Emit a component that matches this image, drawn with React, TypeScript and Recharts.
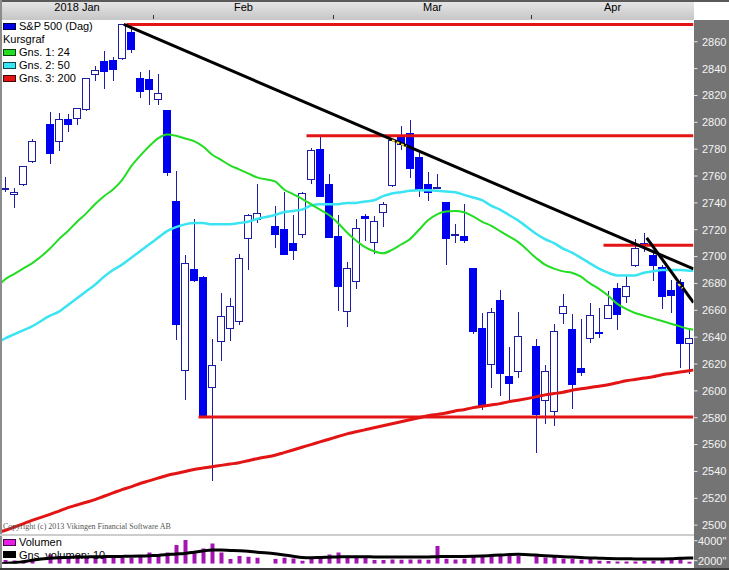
import React from 'react'
import { ComposedChart, Bar, Line, XAxis, YAxis, Legend } from 'recharts'

// one slot per weekday, holidays kept so the gaps show like in the original
const DATES = [
  '2018-01-09', '2018-01-10', '2018-01-11', '2018-01-12', '2018-01-15',
  '2018-01-16', '2018-01-17', '2018-01-18', '2018-01-19',
  '2018-01-22', '2018-01-23', '2018-01-24', '2018-01-25', '2018-01-26',
  '2018-01-29', '2018-01-30', '2018-01-31', '2018-02-01', '2018-02-02',
  '2018-02-05', '2018-02-06', '2018-02-07', '2018-02-08', '2018-02-09',
  '2018-02-12', '2018-02-13', '2018-02-14', '2018-02-15', '2018-02-16',
  '2018-02-19', '2018-02-20', '2018-02-21', '2018-02-22', '2018-02-23',
  '2018-02-26', '2018-02-27', '2018-02-28', '2018-03-01', '2018-03-02',
  '2018-03-05', '2018-03-06', '2018-03-07', '2018-03-08', '2018-03-09',
  '2018-03-12', '2018-03-13', '2018-03-14', '2018-03-15', '2018-03-16',
  '2018-03-19', '2018-03-20', '2018-03-21', '2018-03-22', '2018-03-23',
  '2018-03-26', '2018-03-27', '2018-03-28', '2018-03-29', '2018-03-30',
  '2018-04-02', '2018-04-03', '2018-04-04', '2018-04-05', '2018-04-06',
  '2018-04-09', '2018-04-10', '2018-04-11', '2018-04-12', '2018-04-13',
  '2018-04-16', '2018-04-17', '2018-04-18', '2018-04-19', '2018-04-20',
  '2018-04-23', '2018-04-24', '2018-04-25',
]

const MONTHS = ['2018 Jan', 'Feb', 'Mar', 'Apr']

const OPEN = [
  2751.15, 2745.55, 2752.97, 2770.18, null,
  2798.96, 2784.99, 2802.4, 2802.6,
  2809.16, 2835.05, 2845.42, 2846.24, 2847.48,
  2867.23, 2832.74, 2832.41, 2816.45, 2808.92,
  2741.06, 2614.78, 2690.95, 2685.01, 2601.78,
  2636.75, 2646.27, 2651.21, 2713.46, 2727.14,
  null, 2722.99, 2720.53, 2710.42, 2715.8,
  2757.37, 2780.45, 2753.78, 2715.22, 2658.89,
  2681.06, 2730.18, 2710.18, 2732.75, 2752.91,
  2790.54, 2792.31, 2774.06, 2754.27, 2750.57,
  2740.95, 2715.05, 2714.99, 2691.36, 2646.71,
  2619.35, 2667.57, 2611.3, 2614.41, null,
  2633.45, 2592.17, 2584.04, 2657.36, 2645.82,
  2617.18, 2638.41, 2643.88, 2653.83, 2676.9,
  2670.1, 2692.74, 2710.11, 2701.16, 2692.56,
  2675.4, 2680.8, 2634.92,
]

const HIGH = [
  2759.14, 2750.8, 2767.56, 2787.85, null,
  2807.54, 2807.04, 2805.83, 2810.33,
  2833.03, 2842.24, 2852.97, 2848.56, 2872.87,
  2870.62, 2837.75, 2839.26, 2835.96, 2808.92,
  2763.39, 2701.04, 2727.67, 2685.27, 2638.67,
  2672.61, 2668.84, 2702.1, 2731.51, 2754.42,
  null, 2737.6, 2747.75, 2731.26, 2747.76,
  2780.64, 2789.15, 2761.52, 2730.89, 2696.25,
  2728.09, 2732.08, 2730.6, 2740.45, 2786.57,
  2796.98, 2801.9, 2777.11, 2763.03, 2761.85,
  2740.95, 2724.22, 2739.14, 2691.36, 2657.67,
  2661.36, 2674.78, 2632.65, 2659.07, null,
  2638.3, 2619.14, 2649.86, 2672.08, 2656.88,
  2653.55, 2665.45, 2661.43, 2674.72, 2680.26,
  2686.49, 2713.34, 2717.49, 2702.84, 2693.94,
  2682.86, 2683.55, 2645.3,
]

const LOW = [
  2747.86, 2736.06, 2752.78, 2769.64, null,
  2768.64, 2778.38, 2792.56, 2798.08,
  2808.12, 2830.59, 2824.81, 2830.94, 2846.18,
  2851.48, 2818.27, 2813.04, 2812.7, 2759.97,
  2638.17, 2593.07, 2681.33, 2580.56, 2532.69,
  2622.45, 2637.08, 2648.87, 2689.82, 2725.11,
  null, 2706.76, 2701.29, 2697.77, 2713.74,
  2753.78, 2744.22, 2713.54, 2659.65, 2647.32,
  2675.75, 2711.26, 2701.74, 2721.92, 2751.54,
  2779.26, 2758.68, 2744.38, 2741.47, 2749.97,
  2693.38, 2710.05, 2709.79, 2642.59, 2585.89,
  2601.81, 2596.12, 2593.06, 2609.72, null,
  2553.8, 2575.49, 2573.61, 2649.58, 2586.27,
  2610.79, 2635.78, 2639.25, 2653.83, 2645.05,
  2665.16, 2692.05, 2703.63, 2681.9, 2660.61,
  2657.99, 2617.32, 2612.67,
]

const CLOSE = [
  2751.29, 2748.23, 2767.56, 2786.24, null,
  2776.42, 2802.56, 2798.03, 2810.3,
  2832.97, 2839.13, 2837.54, 2839.25, 2872.87,
  2853.53, 2822.43, 2823.81, 2821.98, 2762.13,
  2648.94, 2695.14, 2681.66, 2581.0, 2619.55,
  2656.0, 2662.94, 2698.63, 2731.2, 2732.22,
  null, 2716.26, 2701.33, 2703.96, 2747.3,
  2779.6, 2744.28, 2713.83, 2677.67, 2691.25,
  2720.94, 2728.12, 2726.8, 2738.97, 2786.57,
  2783.02, 2765.31, 2749.48, 2747.33, 2752.01,
  2712.92, 2716.94, 2711.93, 2643.69, 2588.26,
  2658.55, 2612.62, 2605.0, 2640.87, null,
  2581.88, 2614.45, 2644.69, 2662.84, 2604.47,
  2613.16, 2656.87, 2642.19, 2663.99, 2656.3,
  2677.84, 2706.39, 2708.64, 2693.13, 2670.14,
  2670.29, 2634.56, 2639.4,
]

// volume in the chart's own unit (axis shows 2000" / 4000")
const VOLUME = [
  2070, 2030, 2000, 2170, null,
  2630, 2470, 2400, 2470,
  2300, 2300, 2470, 2300, 2300,
  2300, 2470, 2830, 2630, 2830,
  3570, 4070, 2830, 3230, 3730,
  2830, 2170, 2470, 2400, 2300,
  null, 2170, 2300, 2230, 2000,
  2170, 2300, 2630, 2830, 2470,
  2400, 2400, 2070, 2070, 2130,
  2100, 2130, 2130, 2100, 3470,
  2200, 2130, 2200, 2530, 2530,
  2570, 2500, 2600, 2470, null,
  2470, 2330, 2370, 2200, 2200,
  2100, 2170, 2000, 1970, 1930,
  1930, 1930, 1970, 2000, 2170,
  2100, 2230, 1900,
]

// moving averages as drawn
const MA24 = [
  2683, 2687, 2691, 2695, null,
  2706, 2713, 2719, 2726,
  2732, 2739, 2745, 2750, 2757,
  2767, 2775, 2782, 2788, 2791,
  2790, 2788, 2786, 2782, 2776,
  2772, 2768, 2765, 2762, 2759,
  null, 2756, 2750, 2746.5, 2743,
  2739, 2735, 2731, 2725, 2718,
  2712, 2707, 2704, 2702.5, 2705,
  2709, 2713, 2720, 2727, 2731.5,
  2733.5, 2734, 2733, 2730, 2726,
  2723, 2719, 2715, 2711, null,
  2699, 2694, 2691, 2689, 2688,
  2685, 2680, 2676, 2671, 2665,
  2661, 2658, 2656, 2654, 2652,
  2650, 2648, 2646,
]

const MA50 = [
  2639, 2642, 2645, 2648, null,
  2656, 2659, 2664, 2669,
  2674, 2679, 2685, 2690, 2694,
  2699, 2704, 2709, 2714, 2719,
  2722, 2724, 2725, 2725, 2724,
  2724, 2724, 2725, 2726, 2728,
  null, 2731, 2733, 2734, 2735,
  2738, 2739, 2739, 2739, 2740,
  2740, 2741, 2742, 2745, 2747,
  2748, 2749, 2749.5, 2749.5, 2749,
  2748.5, 2748, 2746, 2744, 2742,
  2738, 2735, 2731, 2727, null,
  2717, 2713, 2710, 2706, 2703,
  2699, 2695, 2691, 2688, 2686,
  2686, 2686, 2688, 2689, 2690,
  2690, 2690, 2689.5,
]

const MA200 = [
  2496, 2498.5, 2501, 2503.5, null,
  2508, 2510.5, 2513, 2515,
  2517, 2519, 2521.5, 2524, 2526.5,
  2528.5, 2531, 2533, 2535, 2537,
  2538.5, 2540, 2541.5, 2542.5, 2543.5,
  2544.5, 2545.5, 2546.5, 2548, 2549.5,
  null, 2552, 2554, 2556, 2558,
  2560, 2562, 2564, 2566, 2568,
  2569.5, 2571, 2572.5, 2574, 2575.5,
  2577, 2578.5, 2580, 2581.5, 2582.5,
  2583.5, 2585, 2586, 2587.5, 2588.5,
  2589.5, 2590.5, 2592, 2593, null,
  2595.5, 2597, 2598, 2599, 2600.5,
  2601.5, 2602.5, 2603.5, 2604.5, 2606,
  2607.5, 2608.5, 2609.5, 2610.5, 2612,
  2613, 2614, 2615,
]

const VMA10 = [
  1720, 1800, 1900, 2050, null,
  2250, 2300, 2330, 2360,
  2380, 2400, 2410, 2420, 2430,
  2440, 2460, 2500, 2530, 2600,
  2680, 2730, 2850, 2980, 3070,
  3060, 3030, 3000, 2950, 2850,
  null, 2700, 2570, 2450, 2320,
  2300, 2320, 2350, 2380, 2400,
  2400, 2400, 2380, 2370, 2360,
  2360, 2360, 2370, 2380, 2400,
  2420, 2420, 2430, 2450, 2480,
  2520, 2560, 2610, 2640, null,
  2560, 2500, 2450, 2400, 2360,
  2320, 2280, 2250, 2220, 2200,
  2190, 2180, 2170, 2170, 2180,
  2200, 2240, 2270,
]

// value of each average where it meets the left / right plot edge
const MA24_EDGE = [2680, 2645.5]
const MA50_EDGE = [2637, 2689.5]
const MA200_EDGE = [2495, 2615.5]
const VMA10_EDGE = [1650, 2270]

// horizontal support / resistance lines, drawn from the day after the date
const LEVEL_VALUES = [2872.87, 2790, 2708.5, 2580.5]
const LEVEL_AFTER = ['2018-01-26', '2018-02-23', '2018-04-11', '2018-02-07']

// hand drawn trend lines [slot, value]
const TREND_LONG = [[13.2, 2872.87], [76.5, 2690.8]]
const TREND_SHORT = [[71.3, 2714], [76.5, 2665.7]]
const TREND_MARKS = [
  [[43, 2786.7], [44.6, 2782]],
  [[74.8, 2679.6], [75.3, 2676.4]],
]

const PRICE_TICKS = [
  2500, 2520, 2540, 2560, 2580, 2600, 2620, 2640, 2660, 2680,
  2700, 2720, 2740, 2760, 2780, 2800, 2820, 2840, 2860,
]
const VOLUME_TICKS = [2000, 4000]

const PRICE_LEGEND = [
  { label: 'S&P 500 (Dag)', color: '#0000e8' },
  { label: 'Kursgraf', color: null },
  { label: 'Gns. 1: 24', color: '#22dd22' },
  { label: 'Gns. 2: 50', color: '#3ae4f2' },
  { label: 'Gns. 3: 200', color: '#e21414' },
]
const VOLUME_LEGEND = [
  { label: 'Volumen', color: '#e81ee8' },
  { label: 'Gns. volumen: 10', color: '#000000' },
]

const COLORS = {
  body: '#0000f0',
  wick: '#1c1ca4',
  ma24: '#22dd22',
  ma50: '#3ae4f2',
  ma200: '#e21414',
  level: '#e21414',
  trend: '#000000',
  mark: '#f2e43a',
  volume: '#a414b4',
  band: '#747474',
}

const FONT = '"Liberation Sans", Arial, sans-serif'

const LEFT = -0.5
const RIGHT = DATES.length - 0.5

const rows = DATES.map((d, i) => ({
  slot: i,
  date: d,
  open: OPEN[i],
  high: HIGH[i],
  low: LOW[i],
  close: CLOSE[i],
  range: OPEN[i] == null ? null : [LOW[i], HIGH[i]],
  volume: VOLUME[i],
}))

function avgPoints(values: (number | null)[], edge: number[]) {
  const pts = [{ slot: LEFT, value: edge[0] }]
  values.forEach((v, i) => {
    if (v != null) pts.push({ slot: i, value: v })
  })
  pts.push({ slot: RIGHT, value: edge[1] })
  return pts
}

const toPoints = (seg: number[][]) => seg.map(([slot, value]) => ({ slot, value }))

// month label positions and boundary ticks
const spans: { m: string; start: number; end: number }[] = []
DATES.forEach((d, i) => {
  const m = d.slice(5, 7)
  const last = spans[spans.length - 1]
  if (!last || last.m !== m) spans.push({ m, start: i - 0.5, end: i + 0.5 })
  else last.end = i + 0.5
})
const LABEL_AT = new Map<number, string>()
spans.forEach((s, k) => LABEL_AT.set((s.start + s.end) / 2, MONTHS[k]))
const BOUNDARIES = spans.slice(1).map((s) => s.start)
const MONTH_TICKS = [...LABEL_AT.keys(), ...BOUNDARIES].sort((a, b) => a - b)

function Candle(props: any) {
  const { x, y, width, height, payload } = props
  if (!payload || payload.open == null || !(height > 0)) return <g />
  const { open, close, high, low } = payload
  const k = height / (high - low)
  const cx = Math.round(x + width / 2)
  const top = y + (high - Math.max(open, close)) * k
  const bot = y + (high - Math.min(open, close)) * k
  const h = Math.max(1, bot - top)
  const up = close >= open
  return (
    <g shapeRendering="crispEdges">
      <line x1={cx + 0.5} x2={cx + 0.5} y1={y} y2={y + height} stroke={COLORS.wick} />
      {up ? (
        <rect x={cx - 3.5} y={top + 0.5} width={7} height={Math.max(h - 1, 1)} fill="#fff" stroke={COLORS.wick} />
      ) : (
        <rect x={cx - 4} y={top} width={8} height={h} fill={COLORS.body} />
      )}
    </g>
  )
}

function MonthTick(props: any) {
  const { x, y, payload } = props
  const label = LABEL_AT.get(payload.value)
  if (label) {
    return (
      <text x={x} y={y - 9} textAnchor="middle" fontSize={11} fill="#000">
        {label}
      </text>
    )
  }
  return <line x1={x} x2={x} y1={y - 5} y2={y - 1} stroke="#333" shapeRendering="crispEdges" />
}

function LegendBox({ items, rowHeight }: { items: { label: string; color: string | null }[]; rowHeight: number }) {
  return (
    <div style={{ fontSize: 11, color: '#000', lineHeight: `${rowHeight}px`, whiteSpace: 'nowrap' }}>
      {items.map((it) => (
        <div key={it.label} style={{ display: 'flex', alignItems: 'center', height: rowHeight }}>
          {it.color ? (
            <span
              style={{
                display: 'inline-block',
                width: 11,
                height: 5,
                background: it.color,
                border: '1px solid rgba(0,0,0,0.7)',
                marginRight: 3,
              }}
            />
          ) : null}
          <span>{it.label}</span>
        </div>
      ))}
    </div>
  )
}

const lineProps = {
  xAxisId: 'n',
  dataKey: 'value',
  dot: false,
  activeDot: false,
  isAnimationActive: false,
  legendType: 'none' as const,
}

export default function App() {
  return (
    <div
      style={{
        position: 'absolute',
        left: 0,
        top: 0,
        width: 729,
        height: 570,
        background: '#fff',
        overflow: 'hidden',
        fontFamily: FONT,
      }}
    >
      <div style={{ position: 'absolute', left: 0, top: 0, width: 694, height: 20, background: 'linear-gradient(#e8e8e8, #c6c6c6)' }} />
      <div style={{ position: 'absolute', left: 694, top: 20, width: 35, height: 550, background: COLORS.band }} />

      <div style={{ position: 'absolute', left: 0, top: 0 }}>
        <ComposedChart
          width={729}
          height={534}
          data={rows}
          margin={{ top: 0, right: 0, bottom: 0, left: 0.5 }}
          barCategoryGap={0}
          barGap={0}
        >
          <XAxis xAxisId="c" dataKey="slot" type="category" hide />
          <XAxis
            xAxisId="n"
            dataKey="slot"
            type="number"
            orientation="top"
            height={20}
            domain={[LEFT, RIGHT]}
            allowDataOverflow
            ticks={MONTH_TICKS}
            interval={0}
            tickSize={0}
            tickMargin={0}
            axisLine={false}
            tickLine={false}
            tick={(p: any) => <MonthTick {...p} />}
          />
          <YAxis
            orientation="right"
            type="number"
            width={35.5}
            domain={[2493.4, 2876.2]}
            allowDataOverflow
            ticks={PRICE_TICKS}
            interval={0}
            tickSize={4}
            tickMargin={4.5}
            axisLine={false}
            tickLine={{ stroke: '#e6e6e6' }}
            tick={{ fill: '#f4f4f4', fontSize: 11 }}
          />
          <Legend
            layout="vertical"
            align="center"
            verticalAlign="middle"
            wrapperStyle={{ top: 19.5, left: 3 }}
            content={() => <LegendBox items={PRICE_LEGEND} rowHeight={13} />}
          />
          <Bar xAxisId="c" dataKey="range" shape={(p: any) => <Candle {...p} />} isAnimationActive={false} legendType="none" />

          <Line {...lineProps} data={avgPoints(MA50, MA50_EDGE)} type="monotone" stroke={COLORS.ma50} strokeWidth={2.5} />
          <Line {...lineProps} data={avgPoints(MA24, MA24_EDGE)} type="monotone" stroke={COLORS.ma24} strokeWidth={2} />
          <Line {...lineProps} data={avgPoints(MA200, MA200_EDGE)} type="monotone" stroke={COLORS.ma200} strokeWidth={3} />

          {LEVEL_VALUES.map((v, i) => (
            <Line
              key={`lvl${i}`}
              {...lineProps}
              data={[
                { slot: DATES.indexOf(LEVEL_AFTER[i]) + 0.5, value: v },
                { slot: RIGHT, value: v },
              ]}
              type="linear"
              stroke={COLORS.level}
              strokeWidth={3}
            />
          ))}

          <Line {...lineProps} data={toPoints(TREND_LONG)} type="linear" stroke={COLORS.trend} strokeWidth={3} />
          <Line {...lineProps} data={toPoints(TREND_SHORT)} type="linear" stroke={COLORS.trend} strokeWidth={3} />
          {TREND_MARKS.map((seg, i) => (
            <Line
              key={`mark${i}`}
              {...lineProps}
              data={toPoints(seg)}
              type="linear"
              stroke={COLORS.mark}
              strokeWidth={2}
              strokeDasharray="3 2"
            />
          ))}
        </ComposedChart>
      </div>

      <div
        style={{
          position: 'absolute',
          left: 3,
          top: 522,
          fontFamily: '"Liberation Serif", "Times New Roman", serif',
          fontSize: 8,
          lineHeight: '10px',
          color: '#555',
          whiteSpace: 'nowrap',
        }}
      >
        Copyright (c) 2013 Vikingen Financial Software AB
      </div>

      <div style={{ position: 'absolute', left: 0, top: 535 }}>
        <ComposedChart
          width={729}
          height={35}
          data={rows}
          margin={{ top: 0.7, right: 0, bottom: 6.3, left: 0.5 }}
        >
          <XAxis xAxisId="c" dataKey="slot" type="category" hide />
          <XAxis xAxisId="n" dataKey="slot" type="number" hide domain={[LEFT, RIGHT]} allowDataOverflow />
          <YAxis
            orientation="right"
            type="number"
            width={35.5}
            domain={[1700, 4500]}
            allowDataOverflow
            ticks={VOLUME_TICKS}
            interval={0}
            tickSize={4}
            tickMargin={0.5}
            axisLine={false}
            tickLine={{ stroke: '#e6e6e6' }}
            tick={{ fill: '#f4f4f4', fontSize: 11 }}
            tickFormatter={(v: number) => `${v}"`}
          />
          <Legend
            layout="vertical"
            align="center"
            verticalAlign="middle"
            wrapperStyle={{ top: 1, left: 3 }}
            content={() => <LegendBox items={VOLUME_LEGEND} rowHeight={12.5} />}
          />
          <Bar xAxisId="c" dataKey="volume" barSize={4} fill={COLORS.volume} isAnimationActive={false} legendType="none" />
          <Line {...lineProps} data={avgPoints(VMA10, VMA10_EDGE)} type="monotone" stroke="#000" strokeWidth={3} />
        </ComposedChart>
      </div>

      <div style={{ position: 'absolute', left: 0, top: 0, width: 729, height: 2, background: '#5a5a5a' }} />
      <div style={{ position: 'absolute', left: 0, top: 0, width: 2, height: 570, background: '#8c8c8c' }} />
      <div style={{ position: 'absolute', left: 0, top: 534, width: 694, height: 2, background: '#cdcdcd' }} />
      <div style={{ position: 'absolute', left: 0, top: 568, width: 729, height: 2, background: '#3a3a3a' }} />
    </div>
  )
}
